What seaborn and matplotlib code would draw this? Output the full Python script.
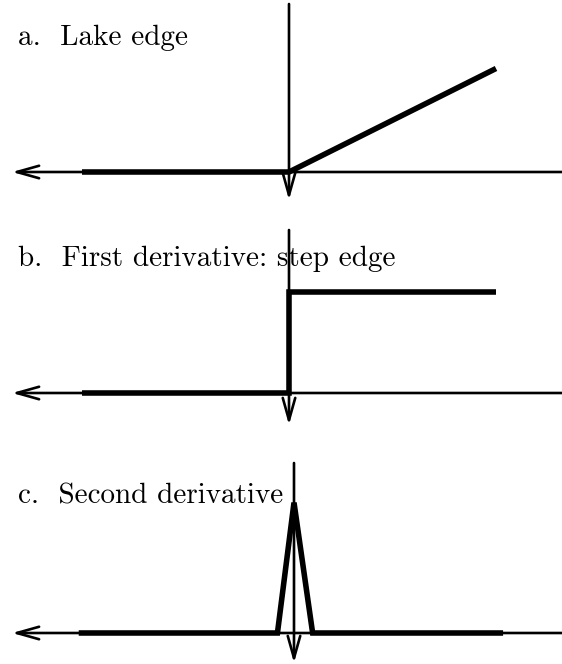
import numpy as np
import pandas as pd
import seaborn as sns
import matplotlib.pyplot as plt

# ---- data (logical units; origin at each panel's vertical axis) ----
lake_x = [-1.0, 0.0, 1.0]
lake_y = [0.0, 0.0, 0.5]
step_x = [-1.0, 0.0, 0.0, 1.0]
step_y = [0.0, 0.0, 0.49, 0.49]
peak_x = [-1.04, -0.08, 0.0, 0.09, 1.01]
peak_y = [0.0, 0.0, 0.63, 0.0, 0.0]
titles = ["a.  Lake edge", "b.  First derivative: step edge", "c.  Second derivative"]

sns.set_theme(style="white")
plt.rcParams["font.family"] = ["cmr10", "DejaVu Serif"]

W, H, DPI = 562, 664, 100
fig = plt.figure(figsize=(W / DPI, H / DPI), dpi=DPI)
UNIT = 207.0

layout = [
    dict(ox=289, oy=172, top=4, bottom=200, ty=45),
    dict(ox=289, oy=393, top=230, bottom=425, ty=266),
    dict(ox=294, oy=633, top=463, bottom=663, ty=503),
]
curves = [(lake_x, lake_y), (step_x, step_y), (peak_x, peak_y)]

arrow_props = dict(arrowstyle="->,head_length=1.6,head_width=0.45", lw=1.9,
                   color="black", shrinkA=0, shrinkB=0, mutation_scale=10)

for title, (cx, cy), p in zip(titles, curves, layout):
    ax = fig.add_axes([0, 0, 1, 1])
    ax.patch.set_alpha(0)
    xmin, xmax = -p["ox"] / UNIT, (W - p["ox"]) / UNIT
    ymin, ymax = (p["oy"] - H) / UNIT, p["oy"] / UNIT

    # horizontal axis with arrow pointing left
    ax.annotate("", xy=((12 - p["ox"]) / UNIT, 0), xytext=(xmax, 0),
                arrowprops=arrow_props)
    # vertical axis with arrow pointing down
    ax.annotate("", xy=(0, (p["oy"] - p["bottom"]) / UNIT),
                xytext=(0, (p["oy"] - p["top"]) / UNIT),
                arrowprops=arrow_props)

    df = pd.DataFrame({"x": cx, "y": cy})
    sns.lineplot(data=df, x="x", y="y", sort=False, estimator=None, ax=ax,
                 color="black", lw=4.0, solid_joinstyle="miter",
                 solid_capstyle="butt")
    ax.set_xlim(xmin, xmax)
    ax.set_ylim(ymin, ymax)
    ax.axis("off")

    fig.text(18 / W, 1 - p["ty"] / H, title, fontsize=21, family="cmr10",
             va="baseline", ha="left", color="black")

fig.savefig("out.png", dpi=DPI)
